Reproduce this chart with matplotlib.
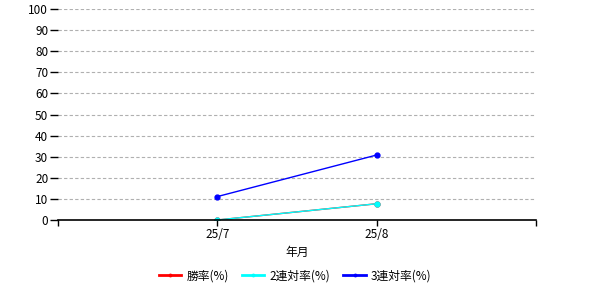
import matplotlib
matplotlib.use("Agg")
import matplotlib.pyplot as plt

plt.rcParams['font.family'] = ['Noto Sans CJK JP', 'DejaVu Sans']

categories = ["25/7", "25/8"]
win_rate = [0, 7.7]
rentai_rate = [0, 7.7]
fukusho_rate = [11.1, 30.8]
yticks = list(range(0, 101, 10))

fig = plt.figure(figsize=(6, 3), dpi=100)
ax = fig.add_axes([58/600, 1-220/300, (536-58)/600, (220-9)/300])

xs = [1, 2]
ax.plot(xs, win_rate, color='red', lw=1, marker='o', ms=3.5, label='勝率(%)')
ax.plot(xs, rentai_rate, color='cyan', lw=1, marker='o', ms=3.5, label='2連対率(%)')
ax.plot(xs, fukusho_rate, color='blue', lw=1, marker='o', ms=3.5, label='3連対率(%)')

ax.set_xlim(0, 3)
ax.set_ylim(0, 100)
ax.set_xticks([0, 1, 2, 3])
ax.set_xticklabels(['', categories[0], categories[1], ''])
ax.set_yticks(yticks)
ax.set_yticklabels([str(v) for v in yticks])
for y in yticks[1:]:
    ax.axhline(y, color='#b0b0b0', lw=0.8, ls=(0, (3, 2)), zorder=0)
for s in ['left', 'right', 'top']:
    ax.spines[s].set_visible(False)
ax.spines['bottom'].set_linewidth(1.2)
ax.tick_params(axis='y', length=6, width=1, labelsize=8.5, pad=1)
ax.tick_params(axis='x', length=4, width=1, labelsize=8.5, pad=2)
ax.set_xlabel('年月', fontsize=8.5, labelpad=3)

leg = fig.legend(loc='center', bbox_to_anchor=(0.492, 1-276/300), ncol=3, frameon=False,
                 fontsize=8.5, handlelength=1.9, columnspacing=1.1, handletextpad=0.45,
                 markerscale=0.5, borderpad=0)
for h in leg.get_lines():
    h.set_linewidth(2)

fig.savefig('out.png', dpi=100)
